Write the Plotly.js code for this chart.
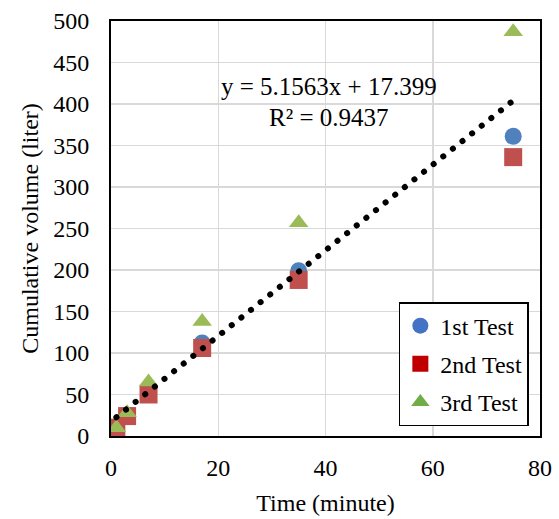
<!DOCTYPE html>
<html>
<head>
<meta charset="utf-8">
<script src="https://cdn.plot.ly/plotly-3.0.1.min.js"></script>
<style>
  html, body { margin: 0; padding: 0; background: #fff; }
  #chart { width: 559px; height: 519px; }
  .trendline .js-line { stroke-linecap: round !important; }
</style>
</head>
<body>
<div id="chart"></div>
<script>
// Time (minute)
const timeMin = [1, 3, 7, 17, 35, 75];
// Cumulative volume (liter)
const test1 = [7, 25, 52, 112, 199, 361];
const test2 = [10, 24, 50, 106, 188, 336];
const test3 = [10, 28, 65, 138, 257, 487];
const seriesNames = ['1st Test', '2nd Test', '3rd Test'];
// Linear trendline (from chart label)
const slope = 5.1563;
const intercept = 17.399;
const rSquared = 0.9437;
const xTicks = [0, 20, 40, 60, 80];
const yTicks = [0, 50, 100, 150, 200, 250, 300, 350, 400, 450, 500];

const font = "'Liberation Serif', 'Times New Roman', serif";

const markerColors = ['#4F81BD', '#C0504D', '#9BBB59'];
const legendColors = ['#4472C4', '#C00000', '#70AD47'];
const symbols = ['circle', 'square', 'triangle-up'];
const sizes = [17, 18, 17];
const data = [test1, test2, test3];

const traces = [];
data.forEach((ys, i) => {
  traces.push({
    x: timeMin, y: ys, type: 'scatter', mode: 'markers',
    name: seriesNames[i], showlegend: false, hoverinfo: 'x+y',
    marker: { symbol: symbols[i], size: sizes[i], color: markerColors[i] }
  });
});

const xMin = Math.min(...timeMin), xMax = Math.max(...timeMin);
const trendX = [xMin, xMax];
const trendY = trendX.map(x => slope * x + intercept);
traces.push({
  x: trendX, y: trendY, type: 'scatter', mode: 'lines', showlegend: false,
  line: { color: '#000', width: 6, dash: '0.1px,12.2px' }, hoverinfo: 'skip'
});

// Legend entries
data.forEach((ys, i) => {
  traces.push({
    x: [null], y: [null], type: 'scatter', mode: 'markers',
    name: seriesNames[i], legendgroup: 'g' + i, showlegend: true,
    marker: { symbol: symbols[i], size: 16, color: legendColors[i] }
  });
});

const layout = {
  width: 559, height: 519,
  margin: { l: 111, r: 19, t: 21, b: 83 },
  paper_bgcolor: '#fff', plot_bgcolor: '#fff',
  font: { family: font, size: 24, color: '#000' },
  showlegend: true,
  legend: {
    x: 0.974, y: 0.024, xanchor: 'right', yanchor: 'bottom',
    bgcolor: '#fff', bordercolor: '#000', borderwidth: 1.5,
    font: { family: font, size: 24, color: '#000' },
    traceorder: 'grouped', tracegroupgap: 4
  },
  xaxis: {
    range: [0, 80], tickvals: xTicks, ticktext: xTicks.map(String),
    showline: true, mirror: true, linecolor: '#000', linewidth: 2,
    showgrid: true, gridcolor: '#D9D9D9', gridwidth: 1.5, zeroline: false,
    ticks: '', ticklabelstandoff: 9,
    tickfont: { family: font, size: 24, color: '#000' },
    title: { text: 'Time (minute)', font: { family: font, size: 24 }, standoff: 14 }
  },
  yaxis: {
    range: [0, 500], tickvals: yTicks, ticktext: yTicks.map(String),
    showline: true, mirror: true, linecolor: '#000', linewidth: 2,
    showgrid: true, gridcolor: '#D9D9D9', gridwidth: 1.5, zeroline: false,
    ticks: '', ticklabelstandoff: 15,
    tickfont: { family: font, size: 24, color: '#000' },
    title: { text: 'Cumulative volume (liter)', font: { family: font, size: 24 }, standoff: 8 }
  },
  annotations: [
    { x: 40.7, y: 421, xref: 'x', yref: 'y', showarrow: false,
      text: 'y = ' + slope.toFixed(4) + 'x + ' + intercept.toFixed(3),
      font: { family: font, size: 25, color: '#000' } },
    { x: 40.7, y: 384, xref: 'x', yref: 'y', showarrow: false,
      text: 'R² = ' + rSquared.toFixed(4),
      font: { family: font, size: 25, color: '#000' } }
  ]
};

Plotly.newPlot('chart', traces, layout, { displayModeBar: false, staticPlot: true }).then(gd => {
  const tr = gd.querySelectorAll('.scatterlayer .trace')[3];
  if (tr) {
    tr.classList.add('trendline');
    tr.querySelectorAll('.js-line').forEach(p => p.style.strokeLinecap = 'round');
  }
});
</script>
</body>
</html>
